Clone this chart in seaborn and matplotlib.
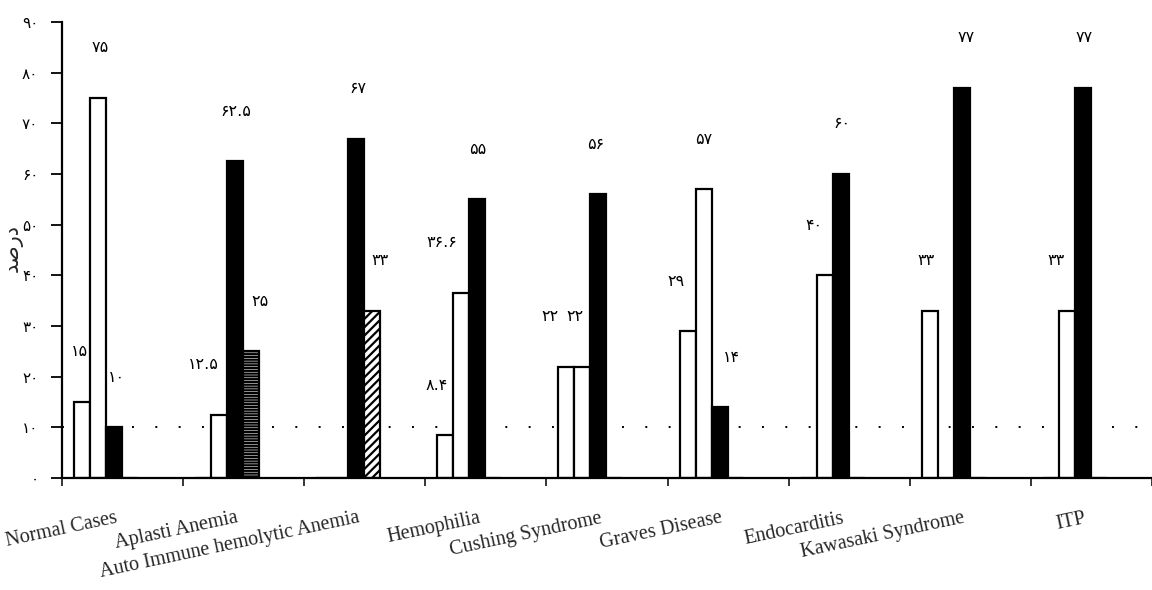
import numpy as np
import pandas as pd
import seaborn as sns
import matplotlib
matplotlib.use("Agg")
import matplotlib.pyplot as plt
from matplotlib.transforms import ScaledTranslation

# ---------------- data ----------------
categories = ["Normal Cases", "Aplasti Anemia", "Auto Immune hemolytic Anemia",
              "Hemophilia", "Cushing Syndrome", "Graves Disease", "Endocarditis",
              "Kawasaki Syndrome", "ITP"]
series_names = ["A", "B", "C", "D"]
series_a = [15, 0, 0, 8.4, 22, 29, 0, 33, 0]
series_b = [75, 12.5, 0, 36.6, 22, 57, 40, 0, 33]
series_c = [10, 62.5, 67, 55, 56, 14, 60, 77, 77]
series_d = [0, 25, 33, 0, 0, 0, 0, 0, 0]
y_ticks = [0, 10, 20, 30, 40, 50, 60, 70, 80, 90]
reference_level = 10
y_label = "\uFEAA\uFEBB\uFEAD\uFEA9"   # "درصد" in visual (shaped) order

# ---------------- styling / layout ----------------
palette = {"A": "white", "B": "white", "C": "black", "D": "white"}
d_hatches = ["", "------", "////", "", "", "", "", "", ""]
# horizontal nudges (pixels) of the value labels, per series
label_nudge = [
    [-3, 0, 0, -9, -16, -12, 0, -4, 0],
    [2, -16, 0, -20, -7, 0, -11, 0, -11],
    [2, 1, 2, 0, -3, 12, 1, 4, 1],
    [0, 9, 8, 0, 0, 0, 0, 0, 0],
]

PERSIAN = str.maketrans("0123456789", "۰۱۲۳۴۵۶۷۸۹")


def fa(v):
    return ("%g" % v).translate(PERSIAN)


sns.set_theme(style="white")
plt.rcParams["font.family"] = ["DejaVu Sans"]
plt.rcParams["hatch.linewidth"] = 1.6
plt.rcParams["hatch.color"] = "black"

rows = []
for name, vals in zip(series_names, [series_a, series_b, series_c, series_d]):
    for cat, v in zip(categories, vals):
        rows.append({"category": cat, "series": name, "value": v})
df = pd.DataFrame(rows)

fig = plt.figure(figsize=(11.52, 5.9), dpi=100)
ax = fig.add_axes([62 / 1152, 1 - 478 / 590, 1 - 62 / 1152, (478 - 22) / 590])

# dotted reference line
ax.axhline(reference_level, color="black", lw=1.4, ls=(0, (1, 11)), zorder=0.5)

sns.barplot(data=df, x="category", y="value", hue="series", order=categories,
            hue_order=series_names, palette=palette, width=0.528, gap=0,
            edgecolor="black", linewidth=1.6, saturation=1, errorbar=None,
            legend=False, ax=ax, zorder=2)

for bar, h in zip(ax.containers[3], d_hatches):
    bar.set_hatch(h)

# value labels
for cont, nudges in zip(ax.containers, label_nudge):
    for bar, dx in zip(cont, nudges):
        h = bar.get_height()
        if h > 0:
            ax.annotate(fa(h), (bar.get_x() + bar.get_width() / 2, h),
                        xytext=(dx * 0.72, 36), textcoords="offset points",
                        ha="center", va="center", fontsize=11.5,
                        color="black", zorder=10)

ax.set_xlim(-0.363, 8.623)
ax.set_ylim(0, 90)

# y axis
ax.set_yticks(y_ticks)
ax.set_yticklabels([fa(t) for t in y_ticks])
ax.tick_params(axis="y", direction="out", length=8, width=1.3, labelsize=11,
               pad=9, left=True, colors="black")

# x axis: labels at group centres, tick marks at category boundaries
ax.set_xticks(range(len(categories)))
ax.set_xticks([i - 0.363 for i in range(len(categories) + 1)], minor=True)
ax.tick_params(axis="x", which="major", length=0, pad=32)
ax.tick_params(axis="x", which="minor", direction="out", length=6, width=1.3,
               bottom=True)
offset = ScaledTranslation(12 / 100, 0, fig.dpi_scale_trans)
for lab in ax.get_xticklabels():
    lab.set_rotation(12)
    lab.set_ha("right")
    lab.set_va("baseline")
    lab.set_rotation_mode("anchor")
    lab.set_family(["Liberation Serif"])
    lab.set_fontsize(14.5)
    lab.set_transform(lab.get_transform() + offset)

ax.set_xlabel("")
ax.set_ylabel(y_label, fontsize=15)
ax.yaxis.set_label_coords(-0.036, 0.505)

for s in ["top", "right"]:
    ax.spines[s].set_visible(False)
for s in ["left", "bottom"]:
    ax.spines[s].set_color("black")
    ax.spines[s].set_linewidth(1.6)

fig.savefig("out.png", dpi=100, facecolor="white")
